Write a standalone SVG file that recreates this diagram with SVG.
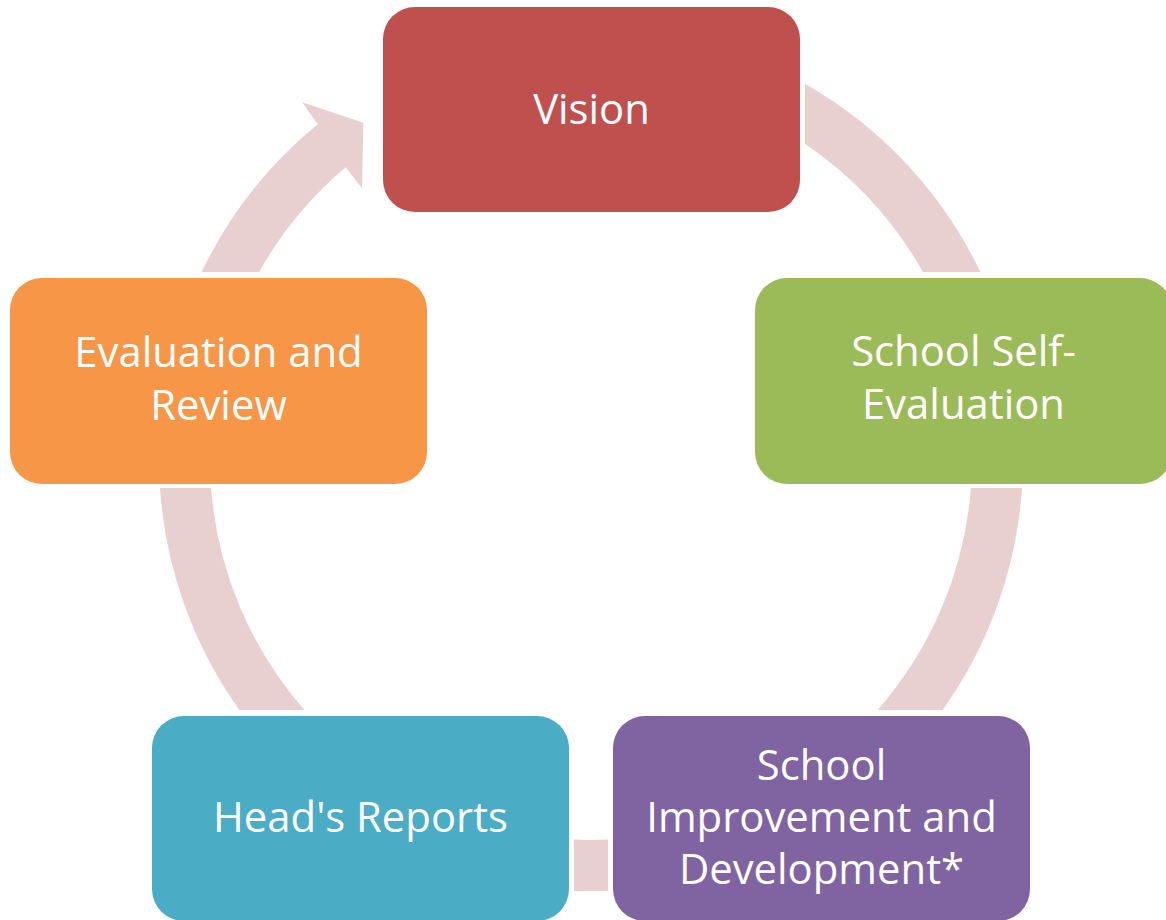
<svg xmlns="http://www.w3.org/2000/svg" width="1166" height="920" viewBox="0 0 1166 920">
  <style>
    .band { fill: #E8D0D1; stroke: none; }
    .box { stroke: none; }
    .lbl { font-family: "Open Sans", "Liberation Sans", sans-serif; font-size: 41.8px; fill: #FFFFFF; text-anchor: middle; }
  </style>
  <rect x="0" y="0" width="1166" height="920" fill="#FFFFFF"/>
  <g id="connectors">
    <path class="band" d="M805,83.7 A432,432 0 0 1 980.4,272 L922.9,272 A381,381 0 0 0 805,143.8 Z"/>
    <path class="band" d="M1022,488 A432,432 0 0 1 942.6,710 L877.6,710 A381,381 0 0 0 970.9,488 Z"/>
    <path class="band" d="M608,890.7 A432,432 0 0 1 574,890.7 L574,839.6 A381,381 0 0 0 608,839.6 Z"/>
    <path class="band" d="M239.4,710 A432,432 0 0 1 160,488 L211.1,488 A381,381 0 0 0 304.4,710 Z"/>
    <path class="band" d="M201.6,272 A432,432 0 0 1 317.7,124.3 L302.3,102.3 L363.3,122.7 L362,188.3 L345.7,167.3 A381,381 0 0 0 259.1,272 Z"/>
  </g>
  <g id="node-vision">
    <rect class="box" x="383" y="7" width="417" height="205" rx="32" ry="32" fill="#C0504D"/>
    <text class="lbl" x="591.5" y="124">Vision</text>
  </g>
  <g id="node-self-evaluation">
    <rect class="box" x="755" y="278" width="417" height="206" rx="32" ry="32" fill="#9BBB59"/>
    <text class="lbl" x="963.5" y="366">School Self-</text>
    <text class="lbl" x="963.5" y="419">Evaluation</text>
  </g>
  <g id="node-improvement">
    <rect class="box" x="613" y="716" width="417" height="205" rx="32" ry="32" fill="#8064A2"/>
    <text class="lbl" x="821.5" y="780">School</text>
    <text class="lbl" x="821.5" y="832">Improvement and</text>
    <text class="lbl" x="821.5" y="883.5">Development*</text>
  </g>
  <g id="node-heads-reports">
    <rect class="box" x="152" y="716" width="417" height="205" rx="32" ry="32" fill="#4BACC6"/>
    <text class="lbl" x="360.5" y="832">Head's Reports</text>
  </g>
  <g id="node-evaluation-review">
    <rect class="box" x="10" y="278" width="417" height="206" rx="32" ry="32" fill="#F79646"/>
    <text class="lbl" x="218.5" y="367">Evaluation and</text>
    <text class="lbl" x="218.5" y="419.5">Review</text>
  </g>
</svg>
